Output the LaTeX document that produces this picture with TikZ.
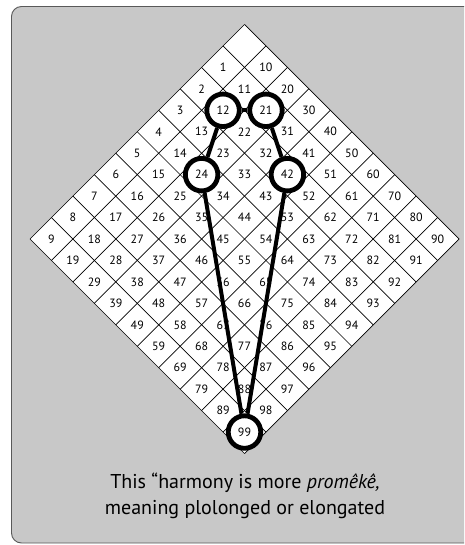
\documentclass[tikz,border=0pt]{standalone}
\usepackage{fontspec}
\setmainfont{PT Sans}
\definecolor{panel}{RGB}{200,200,200}
\begin{document}
\begin{tikzpicture}[x=1pt,y=-1pt,
  num/.style={font=\fontsize{12}{12}\selectfont, inner sep=0pt},
  ring/.style={circle, draw=black, line width=4.8pt, fill=white, minimum size=32.5pt, inner sep=0pt, font=\fontsize{12}{12}\selectfont},
  conn/.style={line width=4pt, draw=black},
  gridline/.style={line width=0.7pt, draw=black},
  caption/.style={font=\fontsize{20}{26}\selectfont, align=center, inner sep=0pt}]
\useasboundingbox (0,0) rectangle (464,545);
\clip (0,0) rectangle (464,545);
\fill[white] (0,0) rectangle (464,545);
\draw[fill=panel, draw=black!65, line width=0.9pt, rounded corners=10pt] (11.5,6.5) rectangle (485,543);
\def\h{21.45}
\fill[white] (244.5,24.5) -- ++(214.5,214.5) -- ++(-214.5,214.5) -- ++(-214.5,-214.5) -- cycle;
\foreach \k in {0,...,10} {
  \draw[gridline] ({244.5-\k*\h},{24.5+\k*\h}) -- ++(214.5,214.5);
  \draw[gridline] ({244.5+\k*\h},{24.5+\k*\h}) -- ++(-214.5,214.5);
}
\foreach \i in {0,...,9}{
  \foreach \j in {0,...,9}{
    \pgfmathtruncatemacro\n{\i+10*\j}
    \pgfmathtruncatemacro\sk{(\n==0)||(\n==12)||(\n==21)||(\n==24)||(\n==42)||(\n==99)}
    \ifnum\sk=0
      \node[num] (c\n) at ({244.5+(\j-\i)*\h},{24.5+(\i+\j+1)*\h}) {\n};
    \fi
  }
}
\node[ring] (r12) at ({244.5+(1-2)*\h},{24.5+4*\h}) {12};
\node[ring] (r21) at ({244.5+(2-1)*\h},{24.5+4*\h}) {21};
\node[ring] (r24) at ({244.5+(2-4)*\h},{24.5+7*\h}) {24};
\node[ring] (r42) at ({244.5+(4-2)*\h},{24.5+7*\h}) {42};
\node[ring] (r99) at (244.5,{24.5+19*\h}) {99};
\draw[conn] (r12) -- (r21);
\draw[conn] (r12) -- (r24);
\draw[conn] (r21) -- (r42);
\draw[conn] (r24) -- (r99);
\draw[conn] (r42) -- (r99);
\node[caption] (cap) at (245,496) {This “harmony is more \textit{promêkê,}\\meaning plolonged or elongated};
\end{tikzpicture}
\end{document}
